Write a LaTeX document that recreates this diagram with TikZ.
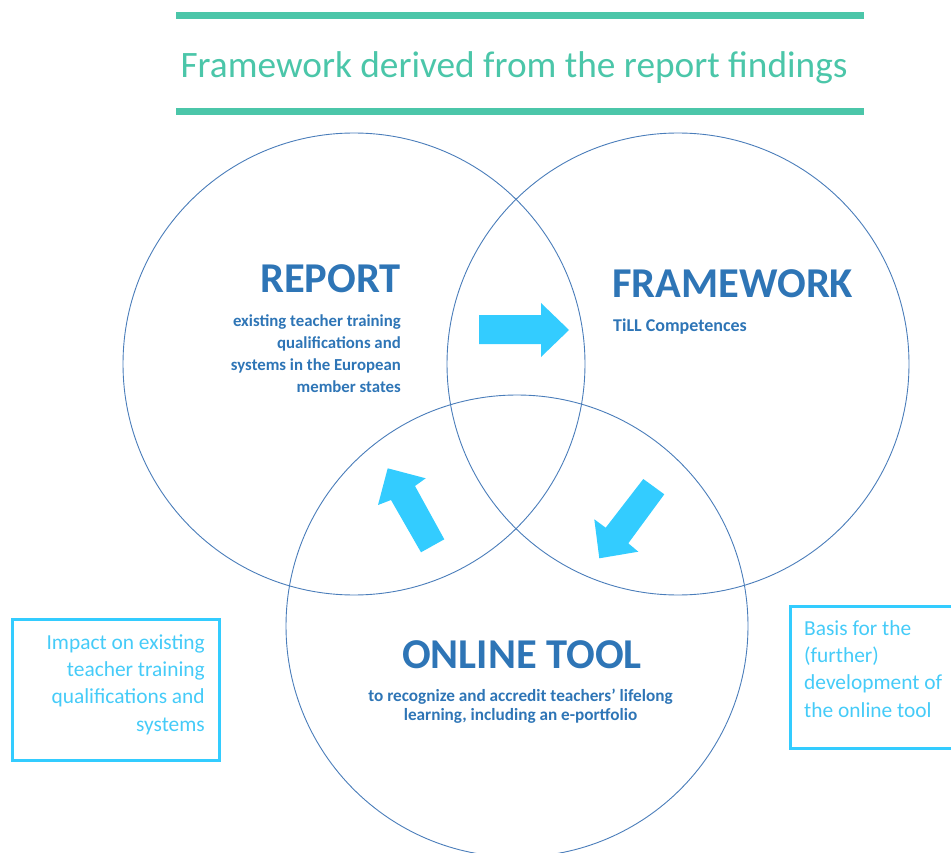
\documentclass[tikz,border=0pt]{standalone}
\usepackage{fontspec}
\setmainfont{Carlito}
\definecolor{teal1}{HTML}{4BC6A9}
\definecolor{vennline}{HTML}{4A7DBA}
\definecolor{headblue}{HTML}{2E75B6}
\definecolor{arrowcyan}{HTML}{33CCFF}
\definecolor{boxtext}{HTML}{45CBF8}
\begin{document}
\begin{tikzpicture}[x=1pt,y=-1pt,
  venn/.style={circle,draw=vennline,line width=0.9pt,minimum size=462pt,inner sep=0pt},
  heading/.style={inner sep=0pt,text=headblue,font=\fontsize{42.5}{48}\selectfont\bfseries},
  subtext/.style={inner sep=0pt,text=headblue,font=\fontsize{16.8}{22}\selectfont\bfseries},
  boxlabel/.style={inner sep=0pt,text=boxtext,font=\fontsize{21.4}{27.3}\selectfont},
  infobox/.style={draw=arrowcyan,line width=3pt},
  blockarrow/.style={fill=arrowcyan,draw=none},
  bar/.style={fill=teal1,draw=none}]
\useasboundingbox (0,0) rectangle (951,853);
% title bars
\fill[bar] (176,12.5) rectangle (864,19.5);
\fill[bar] (176,108) rectangle (864,115.5);
\node[inner sep=0pt,text=teal1,font=\fontsize{37.3}{44}\selectfont,anchor=base] (title) at (514,77.5) {Framework derived from the report findings};
% circles
\node[venn] (report) at (354,364) {};
\node[venn] (framework) at (678,364) {};
\node[venn] (online) at (517,626) {};
% texts
\node[heading,anchor=base east] (reporthead) at (401,293) {REPORT};
\node[subtext,anchor=base east,align=right] (reportsub) at (401,392) {existing teacher training\\qualifications and\\systems in the European\\member states};
\node[heading,anchor=base west] (frameworkhead) at (612,298) {FRAMEWORK};
\node[subtext,anchor=base west,font=\fontsize{18}{22}\selectfont\bfseries] (frameworksub) at (613,331) {TiLL Competences};
\node[heading,anchor=base] (onlinehead) at (522,668) {ONLINE TOOL};
\node[subtext,anchor=base,align=center,font=\fontsize{17.2}{18.5}\selectfont\bfseries] (onlinesub) at (520.5,720) {to recognize and accredit teachers’ lifelong\\learning, including an e-portfolio};
% block arrows
\fill[blockarrow] (479,315) -- (541,315) -- (541,303) -- (569,330) -- (541,357) -- (541,344) -- (479,344) -- cycle;
\fill[blockarrow] (599.3,558.3) -- (594.3,519.3) -- (605.7,527.7) -- (643.3,479) -- (664.3,494.3) -- (628.3,543.3) -- (638.3,551.7) -- cycle;
\fill[blockarrow] (387.7,468.3) -- (425.7,478.3) -- (415,486) -- (444.3,539.3) -- (421,552.3) -- (391,500) -- (378,505) -- cycle;
% side boxes
\draw[infobox] (12,619.5) rectangle (219.5,760.5);
\node[boxlabel,anchor=base east,align=right] (impact) at (205,731) {Impact on existing\\teacher training\\qualifications and\\systems};
\draw[infobox] (790.5,606.5) rectangle (956,748);
\node[boxlabel,anchor=base west,align=left] (basis) at (804,717) {Basis for the\\(further)\\development of\\the online tool};
\end{tikzpicture}
\end{document}
